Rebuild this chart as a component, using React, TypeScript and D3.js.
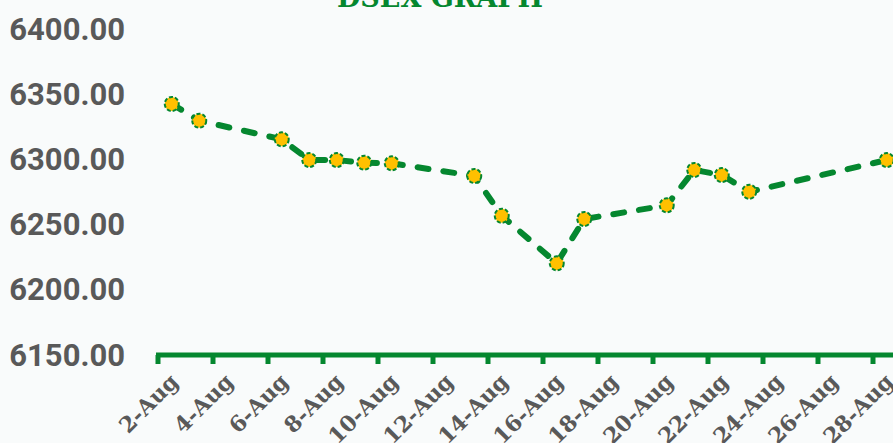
import { useMemo } from "react";
import * as d3 from "d3";

// DSEX closing values, August
const dates = ["2-Aug", "3-Aug", "6-Aug", "7-Aug", "8-Aug", "9-Aug", "10-Aug", "13-Aug", "14-Aug", "16-Aug", "17-Aug", "20-Aug", "21-Aug", "22-Aug", "23-Aug", "28-Aug"];
const values = [6342.5, 6329.7, 6315.4, 6299.5, 6299.5, 6297.5, 6297.0, 6287.3, 6256.8, 6220.3, 6254.3, 6264.8, 6291.9, 6288.0, 6275.2, 6299.5];

const tickLabels = ["2-Aug", "4-Aug", "6-Aug", "8-Aug", "10-Aug", "12-Aug", "14-Aug", "16-Aug", "18-Aug", "20-Aug", "22-Aug", "24-Aug", "26-Aug", "28-Aug"];
const yTicks = [6150, 6200, 6250, 6300, 6350, 6400];

const WIDTH = 893;
const HEIGHT = 443;
const GREEN = "#05872f";
const YELLOW = "#ffc000";
const GRAY = "#595959";
const SLAB = "'DejaVu Serif', 'Liberation Serif', serif";

const day = (s: string) => parseInt(s, 10);

export default function App() {
  const x = useMemo(() => d3.scaleLinear().domain([1.5, 28.5]).range([158, 158 + 27 * 27.5]), []);
  const y = useMemo(() => d3.scaleLinear().domain([6150, 6400]).range([355, 29]), []);

  const pts = dates.map((d, i) => ({ d: day(d), v: values[i] }));
  const line = d3
    .line<{ d: number; v: number }>()
    .x((p) => x(p.d))
    .y((p) => y(p.v));

  const boundaries = tickLabels.map((t) => day(t) - 0.5);
  const axisY = y(6150);

  return (
    <svg
      width={WIDTH}
      height={HEIGHT}
      style={{ position: "absolute", left: 0, top: 0, background: "#f9fbfb" }}
    >
      <text
        x={440}
        y={7}
        textAnchor="middle"
        fill={GREEN}
        fontFamily={SLAB}
        fontWeight="bold"
        fontSize={27}
      >
        DSEX GRAPH
      </text>

      {yTicks.map((t) => (
        <text
          key={t}
          x={125}
          y={y(t)}
          textAnchor="end"
          dominantBaseline="central"
          fill={GRAY}
          fontFamily="Roboto, sans-serif"
          fontWeight="bold"
          fontSize={31}
        >
          {d3.format(".2f")(t)}
        </text>
      ))}

      {/* category axis */}
      <line x1={156} x2={WIDTH + 10} y1={axisY} y2={axisY} stroke={GREEN} strokeWidth={5} />
      {boundaries.map((b) => (
        <line key={b} x1={x(b)} x2={x(b)} y1={axisY} y2={axisY + 9} stroke={GREEN} strokeWidth={5} />
      ))}
      {tickLabels.map((t) => {
        const cx = x(day(t)) + 8;
        const cy = axisY + 28;
        return (
          <text
            key={t}
            x={cx}
            y={cy}
            textAnchor="end"
            transform={`rotate(-45, ${cx}, ${cy})`}
            fill={GRAY}
            fontFamily={SLAB}
            fontWeight="bold"
            fontSize={22}
          >
            {t}
          </text>
        );
      })}

      <path
        d={line(pts) ?? ""}
        fill="none"
        stroke={GREEN}
        strokeWidth={6}
        strokeDasharray="11 15"
        strokeLinecap="round"
        strokeLinejoin="round"
      />
      {pts.map((p, i) => (
        <circle
          key={i}
          cx={x(p.d)}
          cy={y(p.v)}
          r={7}
          fill={YELLOW}
          stroke={GREEN}
          strokeWidth={2}
          strokeDasharray="4 2"
        />
      ))}
    </svg>
  );
}
